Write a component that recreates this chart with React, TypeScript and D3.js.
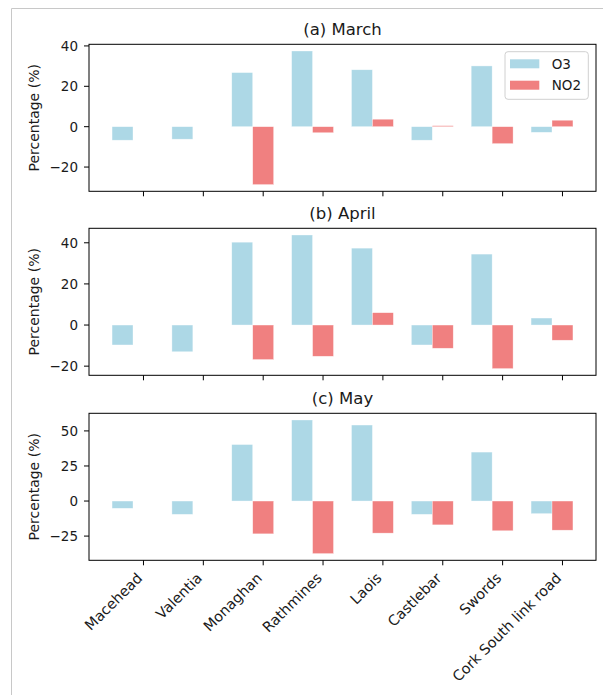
import * as d3 from "d3";
import { useEffect, useRef } from "react";

const stations = ["Macehead", "Valentia", "Monaghan", "Rathmines", "Laois", "Castlebar", "Swords", "Cork South link road"];
const panelTitles = ["(a) March", "(b) April", "(c) May"];
const seriesNames = ["O3", "NO2"];

const o3March = [-6.7, -6.2, 26.8, 37.5, 28.2, -6.7, 30.1, -2.8];
const no2March = [null, null, -28.7, -3.0, 3.7, 0.5, -8.4, 3.2];
const o3April = [-9.7, -13.0, 40.3, 43.8, 37.4, -9.7, 34.5, 3.4];
const no2April = [null, null, -16.8, -15.2, 6.0, -11.3, -21.2, -7.4];
const o3May = [-5.2, -9.5, 40.3, 57.8, 54.2, -9.5, 34.9, -9.0];
const no2May = [null, null, -23.4, -37.5, -22.9, -17.0, -21.2, -20.8];

const yTicksMarch = [-20, 0, 20, 40];
const yTicksApril = [-20, 0, 20, 40];
const yTicksMay = [-25, 0, 25, 50];

const colors = ["#ADD8E6", "#F08080"];

function App() {
	const ref = useRef(null);

	useEffect(() => {
		const root = d3.select(ref.current);
		root.selectAll("*").remove();

		const width = 603;
		const height = 695;
		const left = 89;
		const right = 596;
		const panelTops = [44.3, 228.3, 413.3];
		const panelH = 147;
		const barW = 0.35;
		const font = "DejaVu Sans, sans-serif";

		const panels = [
			{ o3: o3March, no2: no2March, ticks: yTicksMarch },
			{ o3: o3April, no2: no2April, ticks: yTicksApril },
			{ o3: o3May, no2: no2May, ticks: yTicksMay },
		];

		const svg = root.append("svg").attr("width", width).attr("height", height)
			.style("position", "absolute").style("left", 0).style("top", 0).style("background", "#fff");

		// outer frame
		svg.append("path").attr("d", `M11.5,${height} V8.5 H${width}`).attr("fill", "none").attr("stroke", "#c8c8c8").attr("stroke-width", 1);

		// x scale like matplotlib autoscale with 5% margins
		const lo = -barW / 2;
		const hi = stations.length - 1 + 1.5 * barW;
		const m = 0.05 * (hi - lo);
		const x = d3.scaleLinear().domain([lo - m, hi + m]).range([left, right]);

		panels.forEach((p, pi) => {
			const top = panelTops[pi];
			const bottom = top + panelH;
			const vals = [...p.o3, ...p.no2.filter(v => v !== null), 0];
			const ymin = d3.min(vals);
			const ymax = d3.max(vals);
			const ym = 0.05 * (ymax - ymin);
			const y = d3.scaleLinear().domain([ymin - ym, ymax + ym]).range([bottom, top]);

			const g = svg.append("g");

			// title
			g.append("text").attr("x", (left + right) / 2).attr("y", top - 9.5).attr("text-anchor", "middle")
				.attr("font-family", font).attr("font-size", 16.5).attr("fill", "#1a1a1a").text(panelTitles[pi]);

			// bars
			[p.o3, p.no2].forEach((series, si) => {
				g.selectAll(null).data(series.map((v, i) => [i, v]).filter(d => d[1] !== null)).enter()
					.append("rect")
					.attr("x", d => x(d[0] + si * barW - barW / 2))
					.attr("width", x(barW) - x(0))
					.attr("y", d => y(Math.max(0, d[1])))
					.attr("height", d => Math.abs(y(d[1]) - y(0)))
					.attr("fill", colors[si])
					.attr("stroke", "#fff").attr("stroke-opacity", 0.6).attr("stroke-width", 0.6);
			});

			// y axis ticks
			p.ticks.forEach(t => {
				g.append("line").attr("x1", left - 5).attr("x2", left).attr("y1", y(t)).attr("y2", y(t)).attr("stroke", "#000").attr("stroke-width", 1);
				g.append("text").attr("x", left - 11).attr("y", y(t)).attr("dy", "0.36em").attr("text-anchor", "end")
					.attr("font-family", font).attr("font-size", 13.5).attr("fill", "#1a1a1a")
					.text(t < 0 ? "\u2212" + Math.abs(t) : String(t));
			});

			// x ticks
			stations.forEach((s, i) => {
				const tx = x(i + barW);
				g.append("line").attr("x1", tx).attr("x2", tx).attr("y1", bottom).attr("y2", bottom + 5).attr("stroke", "#000").attr("stroke-width", 1);
				if (pi === panels.length - 1) {
					g.append("text").attr("transform", `translate(${tx - 4},${bottom + 15}) rotate(-45)`)
						.attr("text-anchor", "end").attr("dy", "0.36em")
						.attr("font-family", font).attr("font-size", 14.4).attr("fill", "#1a1a1a").text(s);
				}
			});

			// y label
			g.append("text").attr("transform", `translate(34,${(top + bottom) / 2}) rotate(-90)`)
				.attr("text-anchor", "middle").attr("dy", "0.36em")
				.attr("font-family", font).attr("font-size", 14).attr("fill", "#1a1a1a").text("Percentage (%)");

			// spines
			g.append("rect").attr("x", left).attr("y", top).attr("width", right - left).attr("height", panelH)
				.attr("fill", "none").attr("stroke", "#000").attr("stroke-width", 1);

			// legend in first panel
			if (pi === 0) {
				const lg = g.append("g");
				lg.append("rect").attr("x", 505).attr("y", 51.7).attr("width", 83.3).attr("height", 47.6).attr("rx", 3)
					.attr("fill", "#fff").attr("fill-opacity", 0.8).attr("stroke", "#d0d0d0");
				seriesNames.forEach((n, k) => {
					lg.append("rect").attr("x", 510).attr("y", 59.3 + k * 21.4).attr("width", 29.3).attr("height", 9).attr("fill", colors[k]);
					lg.append("text").attr("x", 551.7).attr("y", 63.8 + k * 21.4).attr("dy", "0.36em")
						.attr("font-family", font).attr("font-size", 13.5).attr("fill", "#1a1a1a").text(n);
				});
			}
		});
	}, []);

	return <div ref={ref}></div>;
}

export default App;
